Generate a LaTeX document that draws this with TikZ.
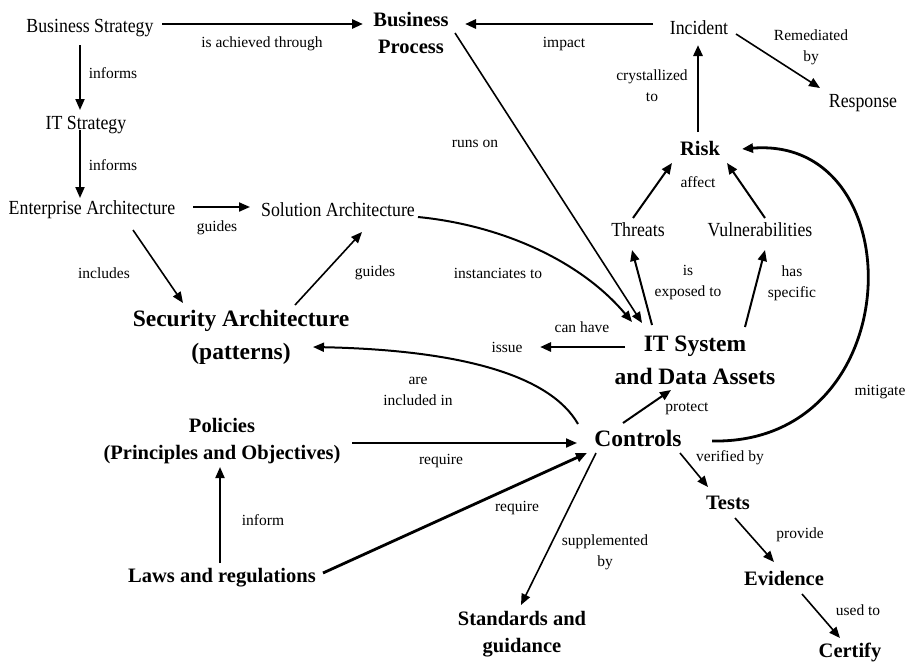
\documentclass[tikz,border=0pt]{standalone}
\usepackage{fontspec}
\setmainfont{Liberation Serif}
\newfontfamily\condfont[FakeStretch=0.89]{Liberation Serif}
\usetikzlibrary{arrows.meta,calc}
\begin{document}
\begin{tikzpicture}[x=1pt,y=-1pt,
  reg/.style={inner sep=0pt,font=\condfont\fontsize{20}{22}\selectfont},
  lbl/.style={inner sep=0pt,align=center,font=\fontsize{15.5}{21}\selectfont},
  bigb/.style={inner sep=0pt,align=center,font=\fontsize{23.5}{33}\selectfont\bfseries},
  midb/.style={inner sep=0pt,align=center,font=\fontsize{20.5}{27}\selectfont\bfseries},
  arr/.style={draw,line width=2pt,-{Triangle[length=11pt,width=9pt]}},
  thin/.style={arr,line width=1.6pt},
  tarr/.style={arr,line width=2.8pt},
]
\useasboundingbox (0,0) rectangle (912,664);
% nodes
\node[reg] (bs) at (90,28) {Business Strategy};
\node[midb] (bp) at (411,33) {Business\\Process};
\node[reg] (inc) at (699,28) {Incident};
\node[reg] (resp) at (863,103) {Response};
\node[midb] (risk) at (700,148) {Risk};
\node[reg] (thr) at (638,230) {Threats};
\node[reg] (vul) at (760,230) {Vulnerabilities};
\node[reg] (its) at (86,125) {IT Strategy};
\node[reg] (ea) at (92,210) {Enterprise Architecture};
\node[reg] (sa) at (338,210) {Solution Architecture};
\node[bigb] (sec) at (241,337) {Security Architecture\\(patterns)};
\node[bigb] (it) at (695,360) {IT System\\and Data Assets};
\node[lbl] (issue) at (507,347) {issue};
\node[bigb] (ctl) at (638,438) {Controls};
\node[midb] (pol) at (222,441) {Policies\\(Principles and Objectives)};
\node[midb] (law) at (222,578) {Laws and regulations};
\node[midb] (std) at (522,634) {Standards and\\guidance};
\node[midb] (tests) at (728,503) {Tests};
\node[midb] (evid) at (784,578) {Evidence};
\node[midb] (cert) at (850,652) {Certify};
% labels
\node[lbl] (l1) at (262,44) {is achieved through};
\node[lbl] (l2) at (564,44) {impact};
\node[lbl] (l3) at (811,47) {Remediated\\by};
\node[lbl] (l4) at (652,86) {crystallized\\to};
\node[lbl] (l5) at (698,182) {affect};
\node[lbl] (l6) at (880,392) {mitigate};
\node[lbl] (l7) at (113,73) {informs};
\node[lbl] (l8) at (113,165) {informs};
\node[lbl] (l9) at (217,228) {guides};
\node[lbl] (l10) at (104,273) {includes};
\node[lbl] (l11) at (375,273) {guides};
\node[lbl] (l12) at (418,391) {are\\included in};
\node[lbl] (l13) at (498,273) {instanciates to};
\node[lbl] (l14) at (475,144) {runs on};
\node[lbl] (l15) at (688,283) {is\\exposed to};
\node[lbl] (l16) at (792,283) {has\\specific};
\node[lbl] (l17) at (582,327) {can have};
\node[lbl] (l18) at (687,409) {protect};
\node[lbl] (l19) at (441,461) {require};
\node[lbl] (l20) at (263,520) {inform};
\node[lbl] (l21) at (517,508) {require};
\node[lbl] (l22) at (605,552) {supplemented\\by};
\node[lbl] (l23) at (730,458) {verified by};
\node[lbl] (l24) at (800,535) {provide};
\node[lbl] (l25) at (858,610) {used to};
% connectors
\draw[tarr] ($(bs)+(72,-4)$) -- ($(bp)+(-48,-9)$);
\draw[tarr] ($(inc)+(-46,-4)$) -- ($(bp)+(54,-9)$);
\draw[arr] ($(bs)+(-10,17)$) -- ($(its)+(-6,-15)$);
\draw[arr] ($(its)+(-6,5)$) -- ($(ea)+(-12,-12)$);
\draw[arr] ($(ea)+(101,-3)$) -- ($(sa)+(-88,-3)$);
\draw[thin] ($(ea)+(41,20)$) -- ($(sec)+(-58,-34)$);
\draw[thin] ($(sec)+(54,-32)$) -- ($(sa)+(24,22)$);
\draw[arr] ($(sa)+(80,7)$) .. controls (500,225) and (580,260) .. ($(it)+(-63,-38)$);
\draw[thin] ($(bp)+(44,0)$) -- ($(it)+(-53,-37)$);
\draw[arr] ($(it)+(-43,-35)$) -- ($(thr)+(-6,20)$);
\draw[arr] ($(it)+(50,-33)$) -- ($(vul)+(5,20)$);
\draw[arr] ($(thr)+(-5,-12)$) -- ($(risk)+(-28,15)$);
\draw[arr] ($(vul)+(5,-12)$) -- ($(risk)+(27,15)$);
\draw[tarr] ($(risk)+(-2,-16)$) -- ($(inc)+(-1,17)$);
\draw[thin] ($(inc)+(37,6)$) -- ($(resp)+(-43,-15)$);
\draw[tarr] ($(ctl)+(74,3)$) .. controls (911,445) and (915,135) .. ($(risk)+(42,1)$);
\draw[tarr] ($(it)+(-70,-13)$) -- ($(issue)+(33,0)$);
\draw[arr] ($(ctl)+(-15,-15)$) -- ($(it)+(-24,30)$);
\draw[arr] ($(ctl)+(-60,-14)$) .. controls (550,375) and (460,350) .. ($(sec)+(72,10)$);
\draw[arr] ($(pol)+(130,2)$) -- ($(ctl)+(-61,5)$);
\draw[arr] ($(law)+(-2,-15)$) -- ($(pol)+(-2,26)$);
\draw[tarr] ($(law)+(101,-5)$) -- ($(ctl)+(-51,15)$);
\draw[thin] ($(ctl)+(-42,15)$) -- ($(std)+(-1,-29)$);
\draw[thin] ($(ctl)+(42,15)$) -- ($(tests)+(-20,-16)$);
\draw[thin] ($(tests)+(7,15)$) -- ($(evid)+(-10,-16)$);
\draw[thin] ($(evid)+(18,16)$) -- ($(cert)+(-10,-14)$);
\end{tikzpicture}
\end{document}
